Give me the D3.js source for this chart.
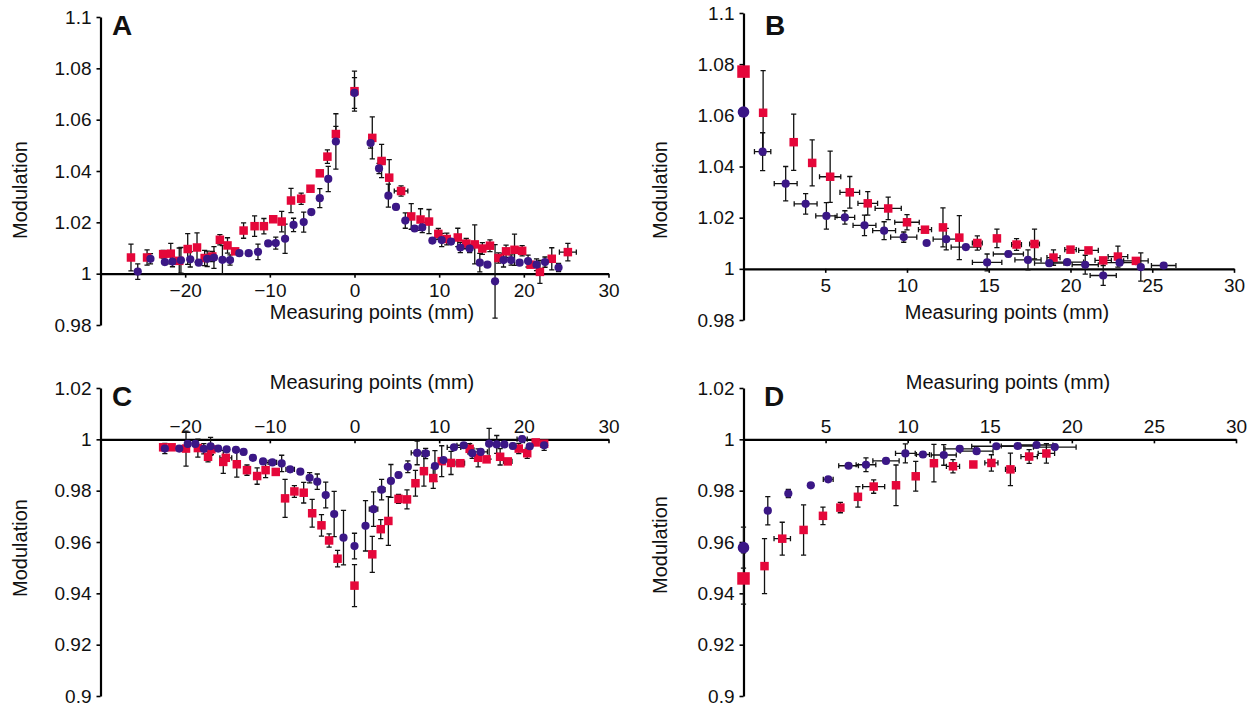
<!DOCTYPE html>
<html>
<head>
<meta charset="utf-8">
<script src="https://cdn.jsdelivr.net/npm/d3@7/dist/d3.min.js"></script>
<style>
  body { margin: 0; background: #fff; }
  svg text { font-family: "Liberation Sans", Arial, Helvetica, sans-serif; fill: #111; }
</style>
</head>
<body>
<svg id="chart" width="1260" height="707"></svg>
<script>
// --- data: [x (mm), modulation, y error, x error] ---
const aRed = [
  [-26.4, 1.0063, 0.0052, 0], [-24.5, 1.0063, 0.003, 0], [-22.6, 1.0076, 0.0015, 0], [-21.7, 1.0078, 0.004, 0],
  [-20.7, 1.005, 0.005, 0], [-19.7, 1.0096, 0.006, 0], [-18.6, 1.0102, 0.0057, 0], [-17.7, 1.0061, 0.003, 0],
  [-16.8, 1.0067, 0.002, 0], [-15.9, 1.0132, 0.002, 0], [-15.0, 1.011, 0.003, 0], [-14.1, 1.0087, 0.001, 0],
  [-13.1, 1.0168, 0.003, 0], [-11.8, 1.0185, 0.004, 0], [-10.7, 1.0185, 0.003, 0], [-9.6, 1.0212, 0.001, 0],
  [-8.6, 1.0203, 0.004, 0], [-7.5, 1.0285, 0.0047, 0], [-6.3, 1.0292, 0.0022, 0], [-5.2, 1.0331, 0.001, 0],
  [-4.1, 1.0391, 0.001, 0], [-3.2, 1.0456, 0.0026, 0], [-2.2, 1.0544, 0.003, 0], [0, 1.0711, 0.0078, 0],
  [2.1, 1.0529, 0.0082, 0], [3.2, 1.0439, 0.0065, 0.4], [4.1, 1.0374, 0.007, 0], [5.5, 1.0322, 0.002, 0.8],
  [6.7, 1.0223, 0.005, 0], [7.8, 1.0211, 0.0042, 0], [8.8, 1.0203, 0.0047, 0], [9.9, 1.0155, 0.0021, 0],
  [10.9, 1.0135, 0.0023, 0], [12.2, 1.0141, 0.0036, 0], [13.2, 1.0117, 0.002, 0], [14.2, 1.0114, 0.0076, 0],
  [15.1, 1.0098, 0.0023, 0], [16.0, 1.0109, 0.0023, 0], [17.0, 1.0061, 0.002, 0], [17.9, 1.0087, 0.0024, 0],
  [18.9, 1.0093, 0.0061, 0], [19.8, 1.0089, 0.002, 0], [20.8, 1.0035, 0.001, 0], [21.9, 1.0007, 0.0045, 0],
  [23.3, 1.0058, 0.0043, 0], [25.2, 1.0084, 0.0034, 1.0]
];
const aPurple = [
  [-25.6, 1.0008, 0.003, 0], [-24.1, 1.0058, 0.002, 0], [-22.4, 1.0045, 0.001, 0], [-21.5, 1.0047, 0.002, 0],
  [-20.5, 1.0052, 0.005, 0], [-19.4, 1.0056, 0.003, 0], [-18.4, 1.0043, 0.001, 0], [-17.4, 1.0058, 0.003, 0],
  [-16.6, 1.0063, 0.0042, 0], [-15.6, 1.0054, 0.0055, 0], [-14.7, 1.0053, 0.002, 0], [-13.6, 1.008, 0.001, 0],
  [-12.5, 1.008, 0.001, 0], [-11.4, 1.0085, 0.003, 0], [-10.2, 1.0118, 0.001, 0], [-9.3, 1.0119, 0.0023, 0],
  [-8.2, 1.0136, 0.0057, 0], [-7.2, 1.019, 0.0026, 0], [-6.0, 1.0201, 0.0039, 0], [-5.1, 1.024, 0.001, 0],
  [-4.1, 1.0294, 0.0037, 0], [-3.1, 1.0369, 0.0049, 0], [-2.2, 1.0515, 0.0108, 0], [0, 1.0704, 0.006, 0],
  [1.9, 1.0509, 0.002, 0], [2.9, 1.041, 0.002, 0], [4.0, 1.0304, 0.0045, 0], [4.9, 1.026, 0.001, 0],
  [6.0, 1.0207, 0.003, 0], [7.1, 1.0176, 0.001, 0], [8.0, 1.018, 0.002, 0], [9.2, 1.0129, 0.001, 0],
  [10.3, 1.0131, 0.0026, 0], [11.4, 1.0125, 0.001, 0], [12.5, 1.0102, 0.002, 0], [13.6, 1.0098, 0.0016, 0],
  [14.8, 1.0043, 0.0036, 0], [15.7, 1.0035, 0.001, 0], [16.6, 0.997, 0.0143, 0], [17.6, 1.0053, 0.0027, 0],
  [18.5, 1.0053, 0.002, 0], [19.5, 1.0043, 0.001, 0], [20.5, 1.0049, 0.0023, 0], [21.5, 1.0035, 0.0023, 0],
  [22.5, 1.0045, 0.002, 0], [24.1, 1.0024, 0.0016, 0]
];
const bRed = [
  [0, 1.0771, 0, 0], [1.2, 1.061, 0.0165, 0], [3.07, 1.0495, 0.011, 0], [4.2, 1.0414, 0.009, 0],
  [5.3, 1.036, 0.010, 0.65], [6.5, 1.0299, 0.0062, 0.6], [7.6, 1.0256, 0.0046, 0.6], [8.85, 1.0236, 0.0044, 0.8],
  [10.0, 1.0182, 0.003, 0.75], [11.1, 1.0153, 0.001, 0.4], [12.2, 1.0162, 0.0076, 0], [13.2, 1.0122, 0.0086, 0],
  [14.3, 1.0101, 0.0028, 0.3], [15.5, 1.0119, 0.0036, 0], [16.7, 1.0095, 0.0023, 0.3], [17.8, 1.0097, 0.0058, 0.3],
  [18.96, 1.0044, 0.003, 0.4], [20.0, 1.0075, 0.001, 0.35], [21.1, 1.0072, 0.001, 0.6], [22.0, 1.0033, 0.001, 0.5],
  [22.9, 1.0048, 0.0041, 0.6], [24.0, 1.0031, 0.001, 0.75]
];
const bPurple = [
  [0, 1.0613, 0, 0], [1.17, 1.0458, 0.0074, 0.5], [2.58, 1.0333, 0.0067, 0.7], [3.8, 1.0254, 0.004, 0.7],
  [5.07, 1.0207, 0.0052, 0.65], [6.2, 1.0201, 0.0026, 0.6], [7.4, 1.017, 0.004, 0.7], [8.6, 1.0149, 0.0035, 0.7],
  [9.8, 1.0124, 0.002, 0.8], [11.2, 1.0101, 0, 0], [12.4, 1.0116, 0.0042, 0.8], [13.6, 1.0085, 0.001, 0.9],
  [14.9, 1.0025, 0.0033, 0.9], [16.2, 1.0058, 0.001, 0.92], [17.4, 1.0035, 0.0039, 0.8], [18.7, 1.0022, 0.001, 0.9],
  [19.8, 1.0026, 0.001, 1.0], [20.9, 1.0016, 0.0037, 0.8], [22.0, 0.9974, 0.0039, 0.8], [23.0, 1.0024, 0.001, 1.0],
  [24.3, 1.0007, 0.0055, 0], [25.7, 1.0013, 0.001, 0.75]
];
const cRed = [
  [-22.6, 0.9969, 0.001, 0], [-21.6, 0.9969, 0.001, 0], [-19.9, 0.9964, 0.0068, 0], [-18.5, 0.9966, 0.0035, 0],
  [-17.3, 0.9932, 0.002, 0], [-16.9, 0.9961, 0.002, 0], [-15.5, 0.9912, 0.0045, 0], [-15.2, 0.9928, 0.001, 0.7],
  [-13.9, 0.9903, 0.005, 0], [-12.7, 0.988, 0.002, 0], [-11.5, 0.9857, 0.0032, 0], [-10.5, 0.988, 0.0029, 0],
  [-9.3, 0.9873, 0.001, 0], [-8.2, 0.977, 0.0074, 0], [-7.1, 0.9797, 0.0023, 0], [-6.0, 0.9792, 0.004, 0],
  [-5.0, 0.9712, 0.0054, 0], [-3.9, 0.9665, 0.0042, 0], [-3.0, 0.9606, 0.0026, 0], [-2.0, 0.9535, 0.0032, 0],
  [0, 0.943, 0.0082, 0], [2.1, 0.9552, 0.007, 0], [3.1, 0.965, 0.0037, 0], [4.0, 0.9682, 0.0095, 0],
  [5.2, 0.9768, 0.0017, 0], [6.2, 0.9766, 0.0037, 0], [7.2, 0.9829, 0.005, 0], [8.2, 0.9876, 0.0058, 0],
  [9.3, 0.9849, 0.004, 0], [10.3, 0.9915, 0.006, 0], [11.4, 0.9908, 0.0045, 0], [12.5, 0.9907, 0.001, 0.5],
  [13.6, 0.9963, 0.002, 0], [14.6, 0.9928, 0.0035, 0], [15.6, 0.9922, 0.001, 0], [17.2, 0.9932, 0.0032, 0],
  [18.1, 0.9914, 0.001, 0.5], [19.4, 0.9964, 0.002, 0], [20.4, 0.9946, 0.002, 0], [21.4, 0.9988, 0.001, 0],
  [22.4, 0.9983, 0.001, 0]
];
const cPurple = [
  [-22.4, 0.9964, 0.002, 0.4], [-20.7, 0.9964, 0.001, 0], [-19.7, 0.9982, 0.001, 0], [-18.8, 0.9982, 0.001, 0],
  [-17.8, 0.9963, 0.002, 0], [-17.0, 0.9973, 0.0035, 0], [-16.1, 0.9964, 0.001, 0], [-15.1, 0.9961, 0.001, 0],
  [-14.0, 0.9959, 0.001, 0], [-13.1, 0.9951, 0.001, 0], [-12.0, 0.9928, 0.001, 0], [-10.8, 0.9914, 0.001, 0],
  [-9.7, 0.991, 0.001, 0.5], [-8.6, 0.9906, 0.0032, 0], [-7.6, 0.9883, 0.001, 0.5], [-6.4, 0.9874, 0.001, 0],
  [-5.3, 0.985, 0.002, 0], [-4.4, 0.9835, 0.003, 0], [-3.4, 0.9783, 0.005, 0], [-2.4, 0.9709, 0.0088, 0],
  [-1.3, 0.9617, 0.0106, 0], [0, 0.9584, 0.005, 0], [1.3, 0.9663, 0.0098, 0], [2.25, 0.9728, 0.0067, 0.5],
  [3.2, 0.9804, 0.004, 0.4], [4.3, 0.9838, 0.0064, 0], [5.2, 0.9861, 0.001, 0], [6.3, 0.9893, 0.0023, 0],
  [7.4, 0.9947, 0.0046, 0.7], [8.4, 0.9945, 0.002, 0.4], [9.5, 0.9896, 0.006, 0], [10.5, 0.9919, 0.001, 0],
  [11.75, 0.9969, 0.001, 0.8], [12.9, 0.9977, 0.001, 0.8], [13.9, 0.9946, 0.002, 0], [14.9, 0.9951, 0.001, 0.8],
  [15.9, 0.9983, 0.006, 0], [16.8, 0.998, 0.0035, 0], [17.7, 0.998, 0.001, 0], [18.7, 0.9974, 0.001, 0],
  [19.8, 1.0001, 0.001, 0.6], [20.7, 0.9973, 0.001, 0], [22.4, 0.9977, 0.002, 0]
];
const dRed = [
  [0, 0.9458, 0.01, 0], [1.28, 0.9506, 0.0107, 0], [2.36, 0.9613, 0.0064, 0.5], [3.66, 0.9647, 0.0098, 0],
  [4.84, 0.9702, 0.0034, 0], [5.9, 0.9734, 0.002, 0], [6.97, 0.9776, 0.004, 0], [7.93, 0.9816, 0.0026, 0.67],
  [9.29, 0.9821, 0.0079, 0], [10.49, 0.9856, 0.0058, 0], [11.6, 0.9907, 0.0073, 0], [12.76, 0.9895, 0.0026, 0.4],
  [14.0, 0.9902, 0.001, 0], [15.1, 0.9908, 0.0032, 0.4], [16.26, 0.9883, 0.0063, 0.3], [17.4, 0.9933, 0.0027, 0.5],
  [18.45, 0.9945, 0.0038, 0.5]
];
const dPurple = [
  [0, 0.9578, 0.008, 0], [1.48, 0.9722, 0.0055, 0], [2.73, 0.9789, 0.0016, 0], [4.1, 0.9821, 0, 0],
  [5.16, 0.9844, 0, 0.3], [6.4, 0.9897, 0, 0.6], [7.46, 0.9901, 0.0027, 0.6], [8.68, 0.9916, 0.001, 0.8],
  [9.86, 0.9945, 0.0037, 0.6], [10.93, 0.9941, 0.001, 0.4], [12.2, 0.9939, 0.004, 0.76], [13.17, 0.9963, 0.001, 0.9],
  [14.2, 0.9954, 0.001, 1.0], [15.4, 0.9973, 0, 1.5], [16.7, 0.9974, 0, 1.0], [17.85, 0.9978, 0.001, 1.0],
  [18.96, 0.997, 0.001, 1.3]
];

// tick values
const xTicksSym = [-20, -10, 0, 10, 20, 30];
const xTicksPos = [5, 10, 15, 20, 25, 30];
const yTicksUp = [0.98, 1, 1.02, 1.04, 1.06, 1.08, 1.1];
const yTicksDown = [0.9, 0.92, 0.94, 0.96, 0.98, 1, 1.02];

const RED = "#e5073a";
const PURPLE = "#3b1786";

const panels = [
  { letter: "A", red: aRed, purple: aPurple, xDom: [-30, 30], xRange: [100.5, 608.5], yDom: [0.98, 1.1], yRange: [325, 17],
    xTicks: xTicksSym, yTicks: yTicksUp, top: false, big: false, letterPos: [112, 35], xTitle: [372, 319], yTitle: [27, 190] },
  { letter: "B", red: bRed, purple: bPurple, xDom: [0, 30], xRange: [743.5, 1234], yDom: [0.98, 1.1], yRange: [320, 13],
    xTicks: xTicksPos, yTicks: yTicksUp, top: false, big: true, letterPos: [765, 35], xTitle: [1007, 319], yTitle: [667, 190] },
  { letter: "C", red: cRed, purple: cPurple, xDom: [-30, 30], xRange: [100.5, 608.5], yDom: [0.9, 1.02], yRange: [696, 388],
    xTicks: xTicksSym, yTicks: yTicksDown, top: true, big: false, letterPos: [112, 406], xTitle: [372, 389], yTitle: [27, 548] },
  { letter: "D", red: dRed, purple: dPurple, xDom: [0, 30], xRange: [743.5, 1236], yDom: [0.9, 1.02], yRange: [696, 388],
    xTicks: xTicksPos, yTicks: yTicksDown, top: true, big: true, letterPos: [764, 406], xTitle: [1008, 389], yTitle: [667, 545] }
];

const svg = d3.select("#chart");
const fmtY = d => String(+d.toFixed(2));

panels.forEach(p => {
  const x = d3.scaleLinear().domain(p.xDom).range(p.xRange);
  const y = d3.scaleLinear().domain(p.yDom).range(p.yRange);
  const g = svg.append("g");

  // y axis
  const yAxis = d3.axisLeft(y).tickValues(p.yTicks).tickFormat(fmtY).tickSizeInner(4).tickSizeOuter(0).tickPadding(5);
  const ya = g.append("g").attr("transform", `translate(${x(p.xDom[0])},0)`).call(yAxis);

  // x axis at modulation = 1
  const xAxis = (p.top ? d3.axisTop(x).tickSizeInner(-4).tickPadding(6) : d3.axisBottom(x).tickSizeInner(4).tickPadding(6))
    .tickValues(p.xTicks).tickFormat(d3.format("d")).tickSizeOuter(0);
  const xa = g.append("g").attr("transform", `translate(0,${y(1)})`).call(xAxis);

  [ya, xa].forEach(a => {
    a.select(".domain").attr("stroke", "#000").attr("stroke-width", 2.2);
    a.selectAll(".tick line").attr("stroke", "#000").attr("stroke-width", 1.6);
    a.selectAll(".tick text").attr("font-size", 19).attr("fill", "#111")
      .style("font-family", '"Liberation Sans", Arial, Helvetica, sans-serif');
  });

  // titles
  g.append("text").attr("x", p.xTitle[0]).attr("y", p.xTitle[1]).attr("text-anchor", "middle")
    .attr("font-size", 20).text("Measuring points (mm)");
  g.append("text").attr("transform", `translate(${p.yTitle[0]},${p.yTitle[1]}) rotate(-90)`)
    .attr("text-anchor", "middle").attr("font-size", 20).text("Modulation");
  g.append("text").attr("x", p.letterPos[0]).attr("y", p.letterPos[1])
    .attr("font-size", 28).attr("font-weight", "bold").text(p.letter);

  // error bars
  const cap = 2.6;
  const err = g.append("g").attr("stroke", "#111").attr("stroke-width", 1.3).attr("fill", "none");
  [...p.red, ...p.purple].forEach(d => {
    const cx = x(d[0]), cy = y(d[1]);
    if (d[2] > 0) {
      const y0 = y(d[1] - d[2]), y1 = y(d[1] + d[2]);
      err.append("path").attr("d",
        `M${cx},${y0}V${y1}M${cx - cap},${y0}H${cx + cap}M${cx - cap},${y1}H${cx + cap}`);
    }
    if (d[3] > 0) {
      const x0 = x(d[0] - d[3]), x1 = x(d[0] + d[3]);
      err.append("path").attr("d",
        `M${x0},${cy}H${x1}M${x0},${cy - cap}V${cy + cap}M${x1},${cy - cap}V${cy + cap}`);
    }
  });

  // markers: red squares then purple circles
  const sq = d => (p.big && d[0] === 0) ? 12.5 : 8.5;
  g.append("g").selectAll("rect").data(p.red).join("rect")
    .attr("x", d => x(d[0]) - sq(d) / 2).attr("y", d => y(d[1]) - sq(d) / 2)
    .attr("width", sq).attr("height", sq).attr("fill", RED);
  const rr = d => (p.big && d[0] === 0) ? 5.8 : 4.1;
  g.append("g").selectAll("circle").data(p.purple).join("circle")
    .attr("cx", d => x(d[0])).attr("cy", d => y(d[1])).attr("r", rr).attr("fill", PURPLE);
});
</script>
</body>
</html>
